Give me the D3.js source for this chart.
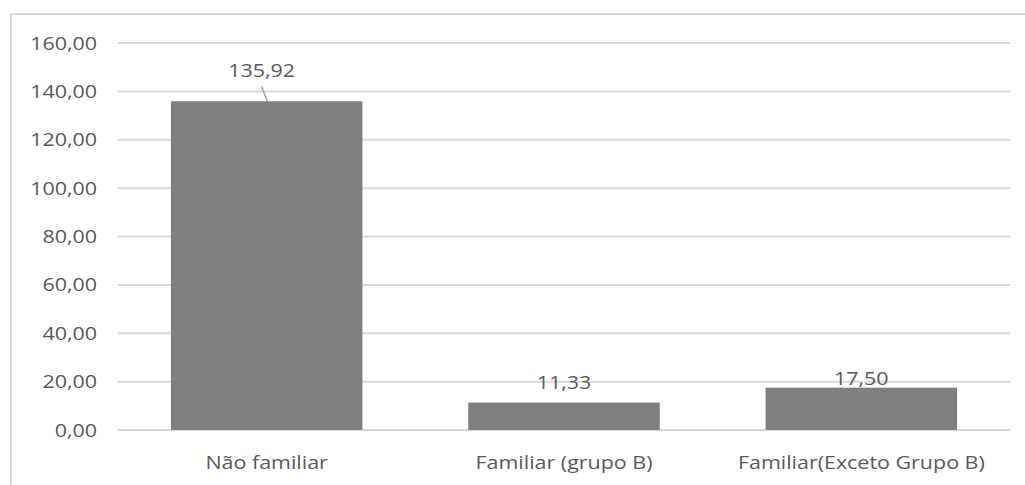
<!DOCTYPE html>
<html>
<head>
<meta charset="utf-8">
<script src="https://cdn.jsdelivr.net/npm/d3@7"></script>
<style>
  html, body { margin: 0; padding: 0; background: #fff; }
  svg { display: block; }
  text { font-family: "Open Sans", "Noto Sans", sans-serif; fill: #595959; }
</style>
</head>
<body>
<svg id="chart" width="1025" height="485"></svg>
<script>
// Categories and values
const categories = ["Não familiar", "Familiar (grupo B)", "Familiar(Exceto Grupo B)"];
const values = [135.92, 11.33, 17.50];
const yTicks = [0, 20, 40, 60, 80, 100, 120, 140, 160];

const W = 1025, H = 485;
const svg = d3.select("#chart");
const fmt = v => v.toFixed(2).replace(".", ",");
const FONT = 18.5, SX = 1.16; // font size and horizontal stretch of labels

// chart area frame
svg.append("rect")
  .attr("x", 11).attr("y", 14)
  .attr("width", W + 10).attr("height", H + 10)
  .attr("fill", "#fff").attr("stroke", "#d9d9d9").attr("stroke-width", 2);

const x = d3.scaleBand().domain(categories).range([118, 1010])
  .paddingInner(0.356).paddingOuter(0.178);
const y = d3.scaleLinear().domain([0, 160]).range([430, 43]);

// horizontal gridlines
svg.append("g").selectAll("line").data(yTicks).join("line")
  .attr("x1", 118).attr("x2", 1010)
  .attr("y1", d => y(d)).attr("y2", d => y(d))
  .attr("stroke", "#d9d9d9").attr("stroke-width", 2);

// value axis labels
svg.append("g").selectAll("text").data(yTicks).join("text")
  .attr("transform", d => `translate(97,${y(d) + 6.5}) scale(${SX},1)`)
  .attr("text-anchor", "end")
  .style("font-size", FONT + "px")
  .text(fmt);

// bars
svg.append("g").selectAll("rect").data(values).join("rect")
  .attr("x", (d, i) => x(categories[i]))
  .attr("y", d => y(d))
  .attr("width", x.bandwidth())
  .attr("height", d => y(0) - y(d))
  .attr("fill", "#7f7f7f");

// category labels
svg.append("g").selectAll("text").data(categories).join("text")
  .attr("transform", d => `translate(${x(d) + x.bandwidth() / 2},469) scale(${SX},1)`)
  .attr("text-anchor", "middle")
  .style("font-size", FONT + "px")
  .text(d => d);

// data labels: the tallest one sits higher with a leader line down to its bar
const labelLift = [24, 14, 3];
const labelShift = [-5, 0, 0];
values.forEach((v, i) => {
  const cx = x(categories[i]) + x.bandwidth() / 2;
  const ly = y(v) - labelLift[i];
  if (i === 0) {
    svg.append("line")
      .attr("x1", cx - 5).attr("y1", y(v) - 15)
      .attr("x2", cx + 0.5).attr("y2", y(v))
      .attr("stroke", "#a6a6a6").attr("stroke-width", 1.5);
  }
  svg.append("text")
    .attr("transform", `translate(${cx + labelShift[i]},${ly}) scale(${SX},1)`)
    .attr("text-anchor", "middle")
    .style("font-size", FONT + "px")
    .text(fmt(v));
});
</script>
</body>
</html>
